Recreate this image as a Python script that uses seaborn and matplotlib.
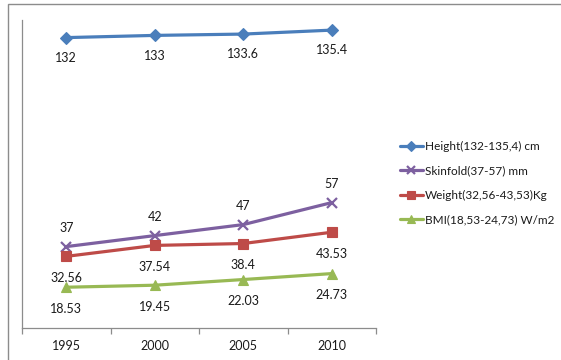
import matplotlib
matplotlib.use("Agg")
import matplotlib.pyplot as plt
from matplotlib.patches import Rectangle
import seaborn as sns
import pandas as pd

years = ["1995", "2000", "2005", "2010"]
height = [132, 133, 133.6, 135.4]
skinfold = [37, 42, 47, 57]
weight = [32.56, 37.54, 38.4, 43.53]
bmi = [18.53, 19.45, 22.03, 24.73]

series_names = [
    "Height(132-135,4) cm",
    "Skinfold(37-57) mm",
    "Weight(32,56-43,53)Kg",
    "BMI(18,53-24,73) W/m2",
]
series_values = [height, skinfold, weight, bmi]
colors = ["#4A7EBB", "#7D60A0", "#BE4B48", "#98B954"]
markers = ["D", "x", "s", "^"]
marker_sizes = [6.5, 7.5, 7, 7.5]
label_offsets = [-14.5, 13.5, -15.5, -15.5]

sns.set_theme(style="white")
plt.rcParams["font.family"] = ["Lato", "DejaVu Sans"]
text_color = "#1a1a1a"

fig = plt.figure(figsize=(5.61, 3.6), dpi=100)
W, H = 561, 360
ax = fig.add_axes([22 / W, 1 - 328 / H, (376 - 22) / W, (328 - 20) / H])

frames = []
for name, vals in zip(series_names, series_values):
    frames.append(pd.DataFrame({"year": years, "value": vals, "series": name}))
df = pd.concat(frames, ignore_index=True)

for name, col, mk, ms, off in zip(series_names, colors, markers, marker_sizes, label_offsets):
    sub = df[df["series"] == name]
    sns.lineplot(data=sub, x="year", y="value", ax=ax, color=col, marker=mk,
                 markersize=ms, markeredgecolor=col, markeredgewidth=1.6 if mk == "x" else 0.8,
                 linewidth=2.3, label=name, sort=False)
    for i, v in enumerate(sub["value"]):
        ax.annotate(f"{v:g}", (i, v), textcoords="offset points", xytext=(0, off),
                    ha="center", va="center", fontsize=9, color=text_color)

ax.set_xlim(-0.5, 3.5)
ax.set_ylim(0, 140)
ax.set_xlabel("")
ax.set_ylabel("")
ax.set_yticks([])
ax.set_xticks([0, 1, 2, 3])
ax.set_xticklabels(years, fontsize=9, color=text_color)
ax.set_xticks([-0.5, 0.5, 1.5, 2.5, 3.5], minor=True)
ax.tick_params(axis="x", which="major", length=0, pad=9)
ax.tick_params(axis="x", which="minor", length=4.5, width=0.9, color="#8c8c8c", direction="out", bottom=True)
for side in ["top", "right"]:
    ax.spines[side].set_visible(False)
for side in ["left", "bottom"]:
    ax.spines[side].set_color("#8c8c8c")
    ax.spines[side].set_linewidth(0.9)

h, l = ax.get_legend_handles_labels()
ax.get_legend().remove()
fig.legend(h, l, loc="center left", bbox_to_anchor=(389 / W, 1 - 183 / H),
           frameon=False, fontsize=8.5, handlelength=2.0, handletextpad=0.15,
           labelspacing=1.15, labelcolor=text_color, numpoints=1, markerscale=0.75)

fig.patches.append(Rectangle((8 / W, -0.05), 1.1, 1 - 4 / H + 0.05, transform=fig.transFigure,
                             fill=False, edgecolor="#8c8c8c", linewidth=1.0))

fig.savefig("out.png", dpi=100)
